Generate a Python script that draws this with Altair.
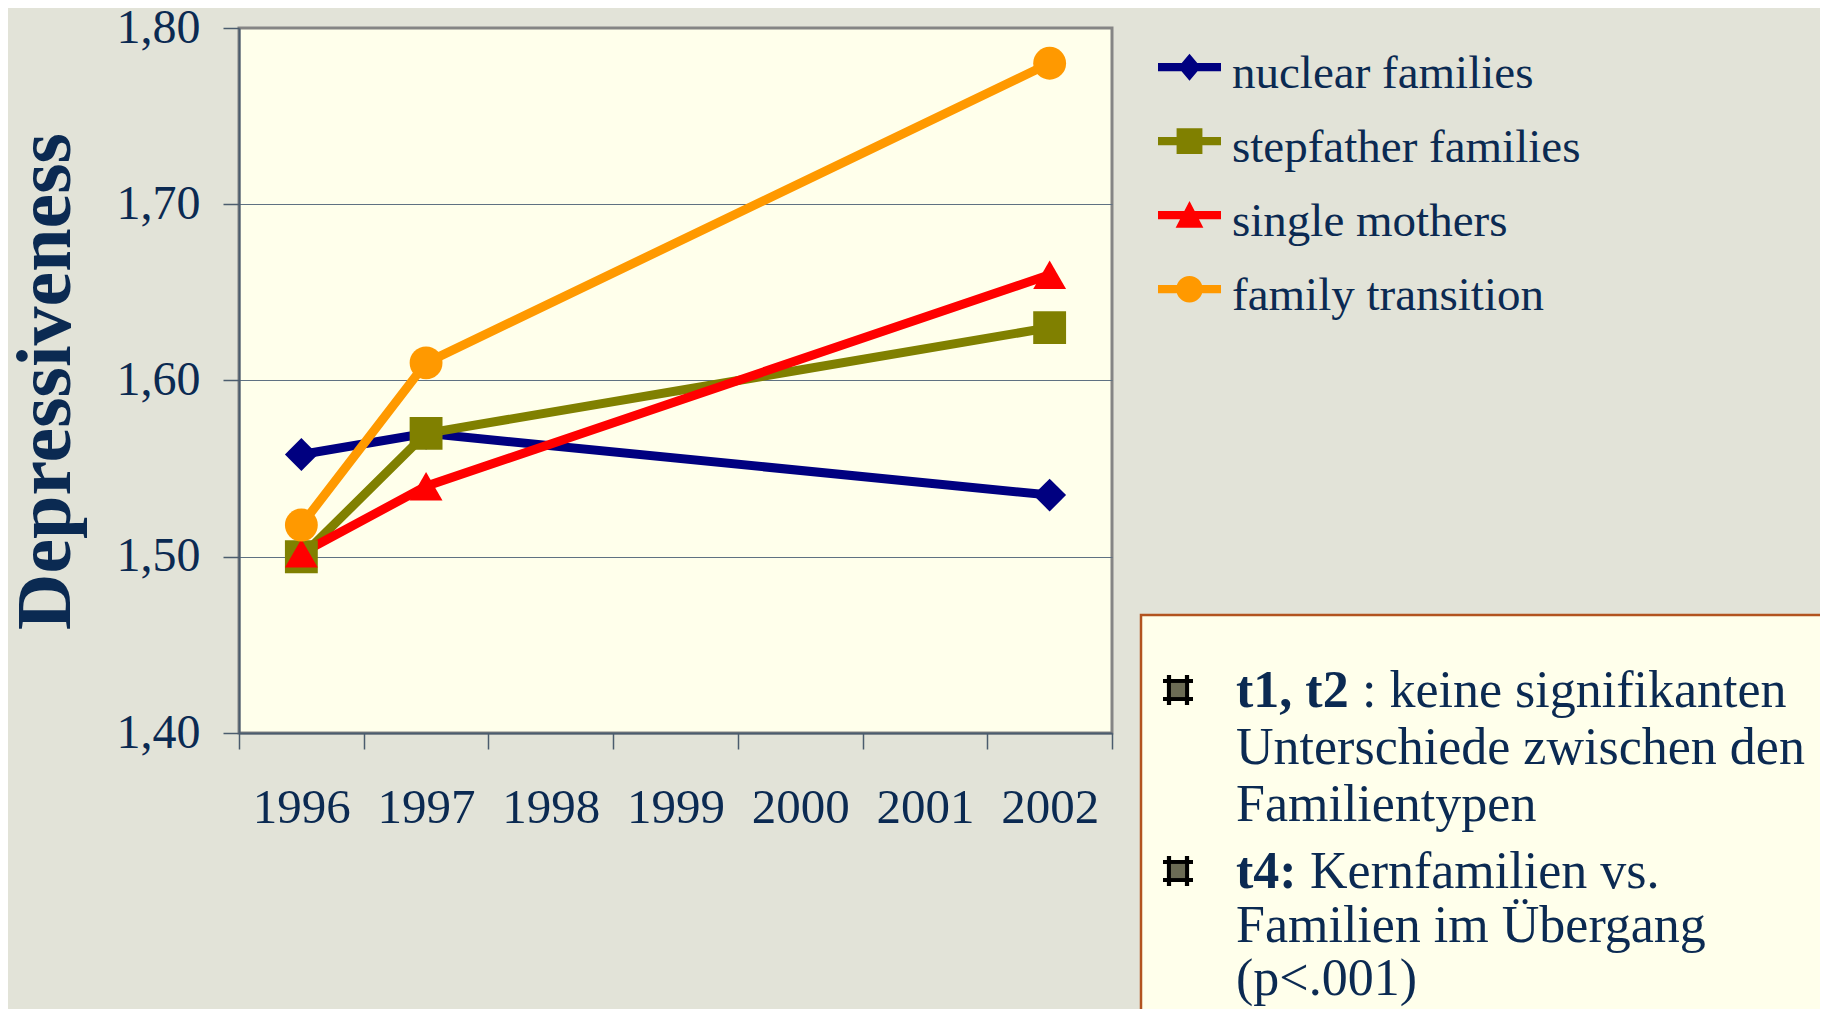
import altair as alt
import pandas as pd

# ---------------- data ----------------
years = ["1996", "1997", "1998", "1999", "2000", "2001", "2002"]
measured_years = ["1996", "1997", "2002"]
series = ["nuclear families", "stepfather families", "single mothers", "family transition"]
nuclear = [1.558, 1.570, 1.535]
stepfather = [1.500, 1.570, 1.630]
single_mothers = [1.502, 1.540, 1.660]
family_transition = [1.518, 1.610, 1.780]
colors = ["#000080", "#808000", "#FF0000", "#FF9900"]
marker_shapes = ["diamond", "square", "triangle-up", "circle"]
y_ticks = [1.4, 1.5, 1.6, 1.7, 1.8]
y_title = "Depressiveness"
note_bold = ["t1, t2", "t4:"]
note_rest = [": keine signifikanten", "Kernfamilien vs."]
note_lines_1 = ["Unterschiede zwischen den", "Familientypen"]
note_lines_2 = ["Familien im Übergang", "(p<.001)"]

rows = []
for name, vals in zip(series, [nuclear, stepfather, single_mothers, family_transition]):
    for yr, v in zip(measured_years, vals):
        rows.append({"year": yr, "value": v, "series": name})
df = pd.DataFrame(rows)

# ---------------- style ----------------
FONT = "Liberation Serif"
NAVY = "#0B2A52"
AXIS_LINE = "#4B5C6E"
PLOT_FILL = "#FFFFEB"
BG = "#E2E3D8"

# legend symbols: bar + marker (shifted up a little so labels sit lower)
bar = "M-1,-0.33L1,-0.33L1,-0.07L-1,-0.07Z"
legend_paths = [
    bar + "M0,-0.63L0.36,-0.2L0,0.23L-0.36,-0.2Z",
    bar + "M-0.41,-0.61L0.41,-0.61L0.41,0.21L-0.41,0.21Z",
    bar + "M0,-0.65L0.44,0.2L-0.44,0.2Z",
    bar + "M-0.42,-0.2A0.42,0.42 0 1,1 0.42,-0.2A0.42,0.42 0 1,1 -0.42,-0.2Z",
]

x_enc = alt.X(
    "year:O",
    scale=alt.Scale(type="band", domain=years, paddingInner=0, paddingOuter=0),
    bandPosition=0.5,
    axis=alt.Axis(
        title=None, labelAngle=0, labelFont=FONT, labelFontSize=49, labelColor=NAVY,
        labelPadding=34, tickSize=16, tickBand="extent", tickColor=AXIS_LINE, tickWidth=1.5,
        domainColor=AXIS_LINE, domainWidth=2, grid=False, labelOverlap=False,
    ),
)
y_enc = alt.Y(
    "value:Q",
    scale=alt.Scale(domain=[1.4, 1.8], nice=False, zero=False),
    axis=alt.Axis(
        values=y_ticks,
        labelExpr="replace(format(datum.value, '.2f'), '.', ',')",
        labelFont=FONT, labelFontSize=48, labelColor=NAVY, labelPadding=23,
        labelFlush=False, labelOverlap=False,
        tickSize=16, tickColor=AXIS_LINE, tickWidth=1.5,
        domainColor=AXIS_LINE, domainWidth=2,
        grid=True,
        gridColor=alt.condition("datum.value == 1.8", alt.value("#858585"), alt.value("#5F7182")),
        gridWidth=1.2,
        title=y_title, titleFont=FONT, titleFontSize=78, titleFontWeight="bold",
        titleColor=NAVY, titleX=-170, titleY=353, titleAngle=-90,
        titleAlign="center", titleBaseline="alphabetic",
    ),
)

color_scale = alt.Scale(domain=series, range=colors)

lines = alt.Chart(df).mark_line(strokeWidth=9).encode(
    x=x_enc, y=y_enc,
    color=alt.Color("series:N", scale=color_scale, legend=None),
)

points = alt.Chart(df).mark_point(filled=True, opacity=1, size=1080).encode(
    x=x_enc, y=y_enc,
    color=alt.Color("series:N", scale=color_scale, legend=None),
    shape=alt.Shape("series:N", scale=alt.Scale(domain=series, range=marker_shapes), legend=None),
)

leg_props = dict(
    title=None, orient="none", legendX=919, legendY=14, symbolSize=3969,
    symbolStrokeWidth=0, padding=0, rowPadding=19, labelFont=FONT, labelFontSize=47,
    labelColor=NAVY, labelOffset=11, labelLimit=0,
)
legend_layer = alt.Chart(df).transform_filter("false").mark_point(filled=True, opacity=1).encode(
    x=x_enc, y=y_enc,
    color=alt.Color("series:N", scale=color_scale, legend=alt.Legend(**leg_props)),
    shape=alt.Shape("series:N", scale=alt.Scale(domain=series, range=legend_paths),
                    legend=alt.Legend(**leg_props)),
)

one = pd.DataFrame({"k": [0]})

box = alt.Chart(one).mark_rect(fill=PLOT_FILL, stroke="#B2531F", strokeWidth=2.5).encode(
    x=alt.value(902), x2=alt.value(1700), y=alt.value(587), y2=alt.value(1100)
)

hash_path = ("M-1,-0.74L1,-0.74L1,-0.46L-1,-0.46Z M-1,0.46L1,0.46L1,0.74L-1,0.74Z "
             "M-0.74,-1L-0.46,-1L-0.46,1L-0.74,1Z M0.46,-1L0.74,-1L0.74,1L0.46,1Z")

def bullet(y):
    outer = alt.Chart(one).mark_point(shape=hash_path, filled=True, color="#000000", opacity=1, size=900).encode(
        x=alt.value(939), y=alt.value(y))
    inner = alt.Chart(one).mark_point(shape="square", filled=True, color="#6B6B55", opacity=1, size=200).encode(
        x=alt.value(939), y=alt.value(y))
    return outer + inner

def note(text, x, y, bold=False):
    return alt.Chart(pd.DataFrame({"t": [text]})).mark_text(
        align="left", baseline="alphabetic", font=FONT, fontSize=52,
        fontWeight="bold" if bold else "normal", color=NAVY,
    ).encode(x=alt.value(x), y=alt.value(y), text="t:N")

# baselines relative to plot top (page y - 28)
notes = (
    bullet(662) + bullet(843)
    + note(note_bold[0], 997, 679, True) + note(note_rest[0], 1123, 679)
    + note(note_lines_1[0], 997, 736) + note(note_lines_1[1], 997, 793)
    + note(note_bold[1], 997, 860, True) + note(note_rest[1], 1071, 860)
    + note(note_lines_2[0], 997, 914) + note(note_lines_2[1], 997, 967)
)

chart = alt.layer(box, lines, points, legend_layer, notes).resolve_scale(
    color="independent", shape="independent"
).properties(
    width=873, height=705,
    autosize=alt.AutoSizeParams(type="none"),
    padding={"left": 231, "top": 20, "right": 708, "bottom": 276},
).configure(background=BG).configure_view(
    fill=PLOT_FILL, stroke="#858585", strokeWidth=3
)

chart.save("out.html", embed_options={"renderer": "svg", "actions": False})
